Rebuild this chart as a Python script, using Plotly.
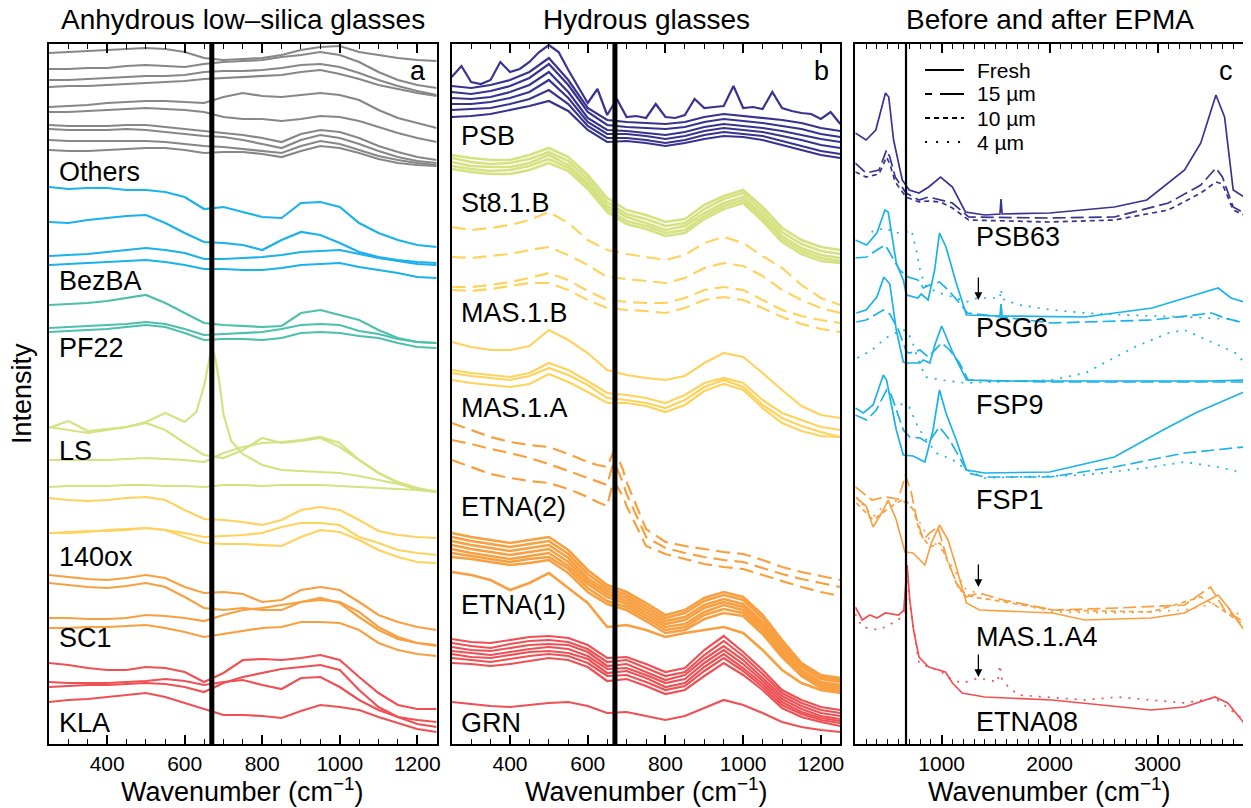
import plotly.graph_objects as go

# ---------------- data (intensity in arbitrary, stacked units) ----------------
WN = list(range(250, 1251, 50))          # common grid for panels a and b
WN25 = list(range(250, 1251, 25))
REF_LINE = 670

# ---- panel a : anhydrous low-silica glasses ----
OTHERS = [
    [691,692,693,694,695,696,695,692,686,684,685,686,689,694,697,698,692,689,686,684,683],
    [675,675,676,676,678,679,678,677,680,682,683,684,687,689,692,689,682,672,664,659,656],
    [664,664,665,666,667,668,668,669,672,673,673,674,676,679,680,677,671,664,658,653,649],
    [657,658,658,659,660,661,662,663,665,666,667,668,669,672,674,670,665,659,655,651,648],
    [637,638,639,641,642,643,643,642,641,647,651,648,647,649,651,649,644,634,626,621,616],
    [632,632,633,634,635,636,635,634,632,627,625,625,623,625,628,627,623,617,611,606,602],
    [619,618,618,618,619,619,617,615,613,611,609,606,602,610,614,612,606,598,592,587,584],
    [615,614,614,614,615,614,612,610,608,607,604,600,596,604,609,606,600,593,587,583,581],
    [604,603,603,603,603,603,602,600,598,597,595,593,591,598,603,600,594,588,584,581,579],
    [594,593,593,594,595,596,596,594,591,592,592,590,587,593,598,596,591,585,581,579,578],
]
BEZBA = [
    [557,555,556,556,554,554,552,547,535,537,532,527,526,541,542,537,521,511,504,499,497],
    [522,521,524,526,528,529,521,511,502,501,499,494,504,512,509,501,492,487,484,482,481],
    [488,489,490,492,494,496,494,491,485,485,486,487,489,492,493,494,490,486,483,480,479],
    [479,480,481,482,483,484,482,479,475,475,474,474,476,479,480,481,477,474,471,467,466],
]
PF22 = [
    [439,440,441,443,446,449,441,431,421,419,418,417,418,431,434,429,424,414,406,402,401],
    [416,417,418,419,420,422,420,415,409,410,411,412,415,419,420,419,413,410,405,402,401],
    [412,413,414,415,417,419,417,411,404,405,405,404,406,411,412,411,408,406,401,397,396],
]
LS_PEAK_X = [250,300,350,400,450,500,550,600,630,650,660,670,680,690,700,720,750,800,850,900,950,1000,1050,1100,1150,1200,1250]
LS_PEAK_Y = [316,323,313,315,317,322,331,322,332,358,378,397,384,360,330,303,290,279,274,273,272,271,268,264,260,256,252]
LS = [
    [317,314,311,314,317,321,314,301,289,286,294,306,301,303,306,297,284,271,262,256,252],
    [284,284,284,284,285,286,285,284,282,291,297,301,302,304,307,301,284,271,261,254,252],
    [257,258,258,258,259,259,258,258,257,259,259,258,259,259,259,258,257,256,255,254,253],
]
OX140 = [
    [246,244,243,244,246,247,244,234,225,224,222,219,224,234,237,234,224,213,209,207,206],
    [211,212,213,213,214,216,214,211,207,208,209,211,217,221,221,219,207,201,194,191,189],
    [211,211,212,214,215,216,214,207,201,200,200,199,198,207,214,212,204,194,187,182,181],
]
SC1 = [
    [169,167,165,164,166,169,166,157,151,152,150,142,144,154,157,154,142,129,122,117,114],
    [161,159,157,156,158,161,157,147,136,134,136,134,134,142,146,141,127,114,105,101,99],
    [126,126,125,125,126,129,128,126,123,129,134,136,139,142,144,142,132,117,107,101,98],
    [116,116,117,117,118,119,116,112,107,110,113,116,117,122,122,121,114,101,94,90,88],
]
KLA = [
    [81,79,76,74,74,77,76,72,62,71,84,85,84,86,89,84,67,51,39,35,35],
    [62,61,61,61,62,63,65,63,59,62,64,59,55,66,67,57,44,34,27,24,22],
    [57,58,59,59,60,61,60,57,52,61,67,71,75,77,79,74,54,37,27,20,17],
    [42,44,45,47,49,51,47,41,35,29,29,28,26,33,39,37,34,27,21,15,12],
]

# ---- panel b : hydrous glasses ----
PSB_SPIKY = [667,678,662,660,664,682,672,675,682,692,699,692,674,658,641,655,629,645,627,628,
             626,640,627,626,629,645,636,637,638,658,636,637,635,652,636,633,631,630,625,632,620]
PSB = [
    [658,656,659,664,672,686,664,636,624,622,621,620,622,627,630,628,626,624,621,616,613],
    [652,650,653,658,666,680,659,632,619,617,616,615,617,622,625,623,621,618,615,610,607],
    [646,645,647,652,659,672,652,626,614,613,611,609,612,617,620,618,616,613,609,605,602],
    [640,640,642,646,652,664,646,622,610,610,608,605,608,613,616,614,612,608,604,599,596],
    [634,635,636,640,645,654,640,618,606,606,604,601,604,609,612,610,608,603,598,593,590],
    [627,628,630,634,638,643,633,614,602,603,601,598,601,605,608,607,604,599,594,589,586],
]
ST81B = [
    [589,586,584,584,589,596,587,569,546,534,529,522,525,539,548,554,537,516,504,497,494],
    [586,582,580,581,585,592,583,565,542,530,525,518,521,535,545,551,533,512,500,493,490],
    [582,578,577,577,581,589,579,561,538,527,521,514,518,531,541,547,529,508,496,489,486],
    [578,575,573,574,578,585,576,558,535,523,518,511,514,528,538,544,526,505,493,486,483],
    [575,572,570,570,574,581,573,555,532,520,515,508,511,525,535,541,523,502,490,483,481],
]
MAS1B = [
    [517,514,516,519,524,532,521,504,494,490,487,484,489,501,507,501,488,476,459,446,439],
    [487,486,488,490,494,497,489,479,467,465,463,461,466,476,481,478,468,454,444,436,431],
    [457,457,459,462,466,471,464,453,444,442,441,441,446,454,457,454,444,434,428,424,421],
    [454,453,455,458,461,461,454,444,436,434,433,431,436,444,447,444,436,427,420,415,412],
]
MAS1A = [
    [402,397,394,394,398,414,404,391,374,369,366,364,368,381,391,387,371,354,338,329,326],
    [374,371,369,367,371,381,374,363,351,349,346,341,349,361,366,361,344,331,324,317,314],
    [371,368,366,364,368,376,369,359,346,344,341,336,344,357,364,357,339,326,318,312,307],
    [364,361,359,357,360,370,362,352,341,341,338,332,339,353,360,354,336,321,313,308,307],
]
ETNA2_X = [250,300,350,400,450,500,550,600,625,650,665,675,690,700,750,800,850,900,950,1000,1050,1100,1150,1200,1250]
ETNA2 = [
    [321,314,307,302,299,297,290,282,279,277,291,288,275,262,215,202,198,195,192,190,184,177,172,168,164],
    [304,300,295,291,286,280,273,266,262,259,280,276,262,250,207,196,191,187,184,182,176,170,165,161,157],
    [284,277,270,266,263,261,255,247,242,238,262,258,248,238,198,190,185,180,177,175,169,163,157,152,148],
]
ETNA1 = [
    [211,207,204,201,204,207,194,174,159,152,141,129,134,146,152,147,129,104,81,69,66],
    [207,203,200,197,200,203,190,170,156,149,138,126,131,143,149,144,126,101,79,67,64],
    [203,199,196,193,196,199,186,166,153,146,135,123,127,139,145,140,122,98,77,65,62],
    [199,195,192,189,192,195,182,163,150,143,132,120,124,136,142,137,119,95,74,62,59],
    [195,191,188,185,188,191,178,160,147,140,129,117,120,132,139,134,116,92,72,60,57],
    [191,188,185,182,185,187,175,156,143,137,126,114,117,129,135,131,113,89,70,58,55],
    [187,185,182,179,181,184,171,152,140,134,123,111,114,125,131,128,110,87,68,56,53],
    [172,169,164,154,161,171,156,141,117,119,114,107,111,114,117,111,94,74,61,54,51],
]
GRN = [
    [105,102,101,104,107,108,106,99,86,87,80,72,76,94,108,92,74,54,44,37,34],
    [101,98,96,100,103,104,102,95,82,84,76,68,72,89,103,88,70,51,41,34,31],
    [97,94,93,96,99,100,99,92,78,80,72,64,69,85,98,84,66,48,38,31,28],
    [93,91,89,92,95,97,95,88,75,76,69,61,65,81,94,80,63,45,35,28,25],
    [90,87,86,89,92,93,91,85,71,73,66,57,61,77,90,76,60,42,32,26,23],
    [86,84,82,85,88,90,88,81,68,69,62,54,58,73,86,73,57,39,30,24,21],
    [81,80,78,80,83,86,84,77,63,65,58,50,54,68,81,69,54,36,27,22,18],
    [42,40,38,37,39,41,42,38,31,32,28,24,28,36,44,39,31,22,17,14,12],
]

# ---- panel c : before and after EPMA (x, y per spectrum) ----
PSB63_FRESH = ([200,300,390,480,510,555,635,700,790,880,990,1100,1220,1400,1540,1550,1560,2000,2600,2900,3250,3400,3540,3620,3700,3800],
               [611,604,614,651,647,604,564,554,551,557,567,557,532,529,530,545,530,531,537,544,574,601,649,627,554,547])
PSB63_15 = ([200,300,420,490,520,570,670,790,880,990,1100,1250,2000,2600,3100,3400,3540,3600,3700,3800],
            [581,571,574,594,587,567,551,544,547,544,541,527,526,527,541,559,576,567,537,531])
PSB63_10 = ([200,300,420,490,520,570,670,790,880,990,1100,1250,2000,2600,3100,3400,3540,3600,3700,3800],
            [572,567,570,587,580,562,547,542,543,542,536,524,522,524,534,551,562,560,534,529])
PSG6_FRESH = ([200,305,400,475,505,580,645,675,780,810,875,935,980,1040,1135,1230,1540,1550,1560,2030,2325,2950,3250,3560,3680,3800],
              [504,499,511,534,532,481,464,449,446,450,444,474,511,497,461,429,428,440,428,427,427,436,446,456,446,442])
PSG6_15 = ([200,305,400,475,505,610,690,780,830,890,980,1060,1165,1240,2020,2950,3500,3620,3800],
           [486,487,494,499,494,474,467,464,456,459,462,454,441,431,421,424,431,426,421])
PSG6_4 = ([350,475,580,675,720,765,800,845,950,1105,1230,1335,1475,1540,1550,1560,1720,2030,2325,2700,3250,3650,3800],
          [512,516,511,512,514,494,474,459,452,447,442,446,446,446,455,445,439,434,431,429,427,425,422])
FSP9_FRESH = ([210,300,400,465,520,580,645,675,800,830,890,940,1000,1105,1230,1500,2000,2500,3000,3500,3800],
              [431,434,447,467,460,414,382,381,381,384,381,400,418,391,364,363,363,363,363,363,364])
FSP9_15 = ([210,300,460,520,600,675,705,800,875,1000,1075,1165,1245,2000,3000,3800],
           [422,424,434,430,414,392,391,394,387,401,394,381,364,362,362,362])
FSP9_4 = ([220,355,480,570,665,720,780,850,1000,1220,2020,2330,2790,3100,3250,3400,3560,3720,3800],
          [386,394,406,411,414,405,385,367,364,361,364,371,397,411,414,407,399,391,382])
FSP1_FRESH = ([200,275,365,460,490,580,645,735,845,920,980,1040,1135,1230,1400,2000,2600,3050,3350,3800],
              [336,331,339,369,364,314,289,288,282,314,354,331,304,274,271,272,287,314,331,352])
FSP1_15 = ([200,305,395,490,530,645,705,800,875,980,1075,1165,1245,1400,2000,2600,3250,3800],
           [329,324,334,354,350,314,307,306,301,317,304,287,271,267,267,277,291,297])
FSP1_4 = ([620,700,780,860,950,1105,1230,1400,2330,2950,3250,3560,3800],
          [340,337,317,304,291,284,274,266,269,277,282,277,271])
MAS_FRESH = ([210,300,365,460,505,580,660,735,845,905,980,1060,1135,1230,1350,2030,2325,2940,3250,3560,3650,3800],
             [246,238,217,234,244,224,192,191,179,201,219,204,177,141,134,131,124,126,131,149,137,114])
MAS_15 = ([200,355,480,600,665,720,765,830,890,965,1045,1135,1230,1350,1570,2030,2630,3250,3490,3620,3800],
          [257,244,247,245,269,251,227,204,211,217,187,161,147,151,144,134,136,139,157,134,122])
MAS_10 = ([210,365,490,580,660,740,800,890,985,1060,1165,1290,1475,2030,2940,3400,3560,3800],
          [241,224,234,241,245,234,211,197,201,181,154,147,144,134,132,147,137,119])
MAS_4 = ([210,365,490,610,700,800,890,985,1120,1230,1335,1570,2030,2630,3250,3560,3800],
         [247,227,241,244,240,221,204,197,174,154,151,144,132,131,134,141,127])
ETNA08_FRESH = ([200,265,335,400,480,600,650,680,705,740,790,880,1035,1100,1190,1400,2020,2940,3250,3530,3650,3800],
                [137,124,129,126,131,129,134,179,144,114,87,77,72,61,51,47,44,34,37,47,41,21])
ETNA08_4 = ([200,265,420,600,650,680,705,790,1000,1100,1200,1340,1520,1540,1560,1620,1710,2330,2630,3250,3530,3800],
            [130,117,114,124,132,170,140,81,72,64,61,66,62,79,64,57,49,44,47,41,46,24])

# labels  (text, y)
LABELS_A = [("Others", 572), ("BezBA", 463), ("PF22", 396), ("LS", 293), ("140ox", 187), ("SC1", 106), ("KLA", 21)]
LABELS_B = [("PSB", 608), ("St8.1.B", 541), ("MAS.1.B", 431), ("MAS.1.A", 336), ("ETNA(2)", 237), ("ETNA(1)", 139), ("GRN", 21)]
LABELS_C = [("PSB63", 507), ("PSG6", 416), ("FSP9", 339), ("FSP1", 244), ("MAS.1.A4", 107), ("ETNA08", 22)]
ARROWS_C = [(1340, 444), (1340, 157), (1340, 67)]
LEGEND_C = ["Fresh", "15 µm", "10 µm", "4 µm"]

# ---------------- styles ----------------
GRAY = "#878787"
CYAN = "#1ab2e8"
TEAL = "#4cbfad"
LIME = "#d4e282"
YELLOW = "#fed25c"
ORANGE = "#f8a041"
RED = "#ee5054"
NAVY = "#37338f"
FONT = "Liberation Sans, Arial, sans-serif"
DASH_B = "14px,7px"
D15, D10, D4 = "13px,5px", "5px,4px", "2px,7px"
LEG_DASH = ["solid", "7px,8px,24px", "5px,4px", "2px,9px"]

fig = go.Figure()


def add(xs, ys, color, ax, dash="solid", width=2.2):
    fig.add_trace(go.Scatter(x=xs, y=ys, mode="lines", showlegend=False, hoverinfo="skip",
                             line=dict(color=color, width=width, dash=dash),
                             xaxis="x" + ax, yaxis="y" + ax))


# panel a
for group, col in [(OTHERS, GRAY), (BEZBA, CYAN), (PF22, TEAL), (LS, LIME), (OX140, YELLOW), (SC1, ORANGE), (KLA, RED)]:
    for ys in group:
        add(WN, ys, col, "")
add(LS_PEAK_X, LS_PEAK_Y, LIME, "")

# panel b
add(WN25, PSB_SPIKY, NAVY, "2")
for ys in PSB:
    add(WN, ys, NAVY, "2")
for ys in ST81B:
    add(WN, ys, LIME, "2", width=2.6)
for ys in MAS1B:
    add(WN, ys, YELLOW, "2", dash=DASH_B)
for ys in MAS1A:
    add(WN, ys, YELLOW, "2")
for ys in ETNA2:
    add(ETNA2_X, ys, ORANGE, "2", dash=DASH_B)
for ys in ETNA1:
    add(WN, ys, ORANGE, "2", width=2.6)
for ys in GRN:
    add(WN, ys, RED, "2")

# panel c
for (xs, ys), col, dash in [
    (PSB63_FRESH, NAVY, "solid"), (PSB63_15, NAVY, D15), (PSB63_10, NAVY, D10),
    (PSG6_FRESH, CYAN, "solid"), (PSG6_15, CYAN, D15), (PSG6_4, CYAN, D4),
    (FSP9_FRESH, CYAN, "solid"), (FSP9_15, CYAN, D15), (FSP9_4, CYAN, D4),
    (FSP1_FRESH, CYAN, "solid"), (FSP1_15, CYAN, D15), (FSP1_4, CYAN, D4),
    (MAS_FRESH, ORANGE, "solid"), (MAS_15, ORANGE, D15), (MAS_10, ORANGE, D10), (MAS_4, ORANGE, D4),
    (ETNA08_FRESH, RED, "solid"), (ETNA08_4, RED, D4),
]:
    add(xs, ys, col, "3", dash=dash, width=1.7)

# ---------------- layout ----------------
# the page body adds an 8 px offset, so the figure is 8 px smaller on each side
W, H = 1243, 800
ML, MR, MT, MB = 41, 3, 36, 64
PW, PH = W - ML - MR, H - MT - MB
DOM = [[0.0, 0.3244], [0.3370, 0.6622], [0.6747, 1.0]]


def xax(dom, rng, dtick, minor):
    return dict(domain=dom, range=rng, tick0=0, dtick=dtick, ticks="inside", ticklen=9, tickwidth=1.5,
                tickcolor="black", showline=True, linecolor="black", linewidth=2, mirror="allticks",
                showgrid=False, zeroline=False, tickfont=dict(size=21, color="black", family=FONT),
                minor=dict(dtick=minor, tick0=0, ticks="inside", ticklen=5, tickwidth=1.2, tickcolor="black"))


def yax(anchor):
    return dict(domain=[0, 1], range=[0, 700], showticklabels=False, ticks="", showline=True,
                linecolor="black", linewidth=2, mirror=True, showgrid=False, zeroline=False, anchor=anchor)


fig.update_layout(
    width=W, height=H, margin=dict(l=ML, r=MR, t=MT, b=MB),
    paper_bgcolor="white", plot_bgcolor="white",
    font=dict(family=FONT, color="black"), showlegend=False,
    xaxis=dict(**xax(DOM[0], [250, 1250], 200, 50), anchor="y"),
    xaxis2=dict(**xax(DOM[1], [250, 1250], 200, 50), anchor="y2"),
    xaxis3=dict(**xax(DOM[2], [200, 3800], 1000, 100), anchor="y3"),
    yaxis=yax("x"), yaxis2=yax("x2"), yaxis3=yax("x3"),
)

shapes = []
for ax, w in [("x", 5), ("x2", 5), ("x3", 2.2)]:
    shapes.append(dict(type="line", xref=ax, yref="paper", x0=REF_LINE, x1=REF_LINE, y0=0, y1=1,
                       line=dict(color="black", width=w), layer="above"))

ann = []
# legend of panel c (line samples + text), in pixel offsets from the plot area
leg_x0, leg_x1, leg_tx = (928 - 49) / PW, (967 - 49) / PW, (978 - 49) / PW
for k, (name, dash) in enumerate(zip(LEGEND_C, LEG_DASH)):
    yy = (744 - (70 + 24 * k)) / PH
    shapes.append(dict(type="line", xref="paper", yref="paper", x0=leg_x0, x1=leg_x1, y0=yy, y1=yy,
                       line=dict(color="black", width=2, dash=dash)))
    ann.append(dict(text=name, xref="paper", yref="paper", x=leg_tx, y=yy, xanchor="left",
                    yanchor="middle", showarrow=False, font=dict(size=21)))
fig.update_layout(shapes=shapes)

for i, (title, letter) in enumerate([("Anhydrous low–silica glasses", "a"), ("Hydrous glasses", "b"),
                                     ("Before and after EPMA", "c")]):
    cx = (DOM[i][0] + DOM[i][1]) / 2
    ann.append(dict(text=title, xref="paper", yref="paper", x=cx, y=1.035, xanchor="center",
                    yanchor="middle", showarrow=False, font=dict(size=28)))
    ann.append(dict(text="Wavenumber (cm<sup>−1</sup>)", xref="paper", yref="paper", x=cx, y=-0.066,
                    xanchor="center", yanchor="middle", showarrow=False, font=dict(size=27)))
    ann.append(dict(text=letter, xref="paper", yref="paper", x=DOM[i][1] - 0.0075, y=0.962,
                    xanchor="right", yanchor="middle", showarrow=False, font=dict(size=27)))
ann.append(dict(text="Intensity", xref="paper", yref="paper", x=-0.0225, y=0.5, textangle=-90,
                xanchor="center", yanchor="middle", showarrow=False, font=dict(size=27)))
for labels, ax, xpos in [(LABELS_A, "", 270), (LABELS_B, "2", 270), (LABELS_C, "3", 1300)]:
    for text, yv in labels:
        ann.append(dict(text=text, xref="x" + ax, yref="y" + ax, x=xpos, y=yv, xanchor="left",
                        yanchor="middle", showarrow=False, font=dict(size=27)))
for xv, yv in ARROWS_C:
    ann.append(dict(text="", xref="x3", yref="y3", x=xv, y=yv, ax=0, ay=-24, showarrow=True,
                    arrowhead=2, arrowsize=1.2, arrowwidth=1.3, arrowcolor="black"))
fig.update_layout(annotations=ann)

fig.write_html("out.html")
